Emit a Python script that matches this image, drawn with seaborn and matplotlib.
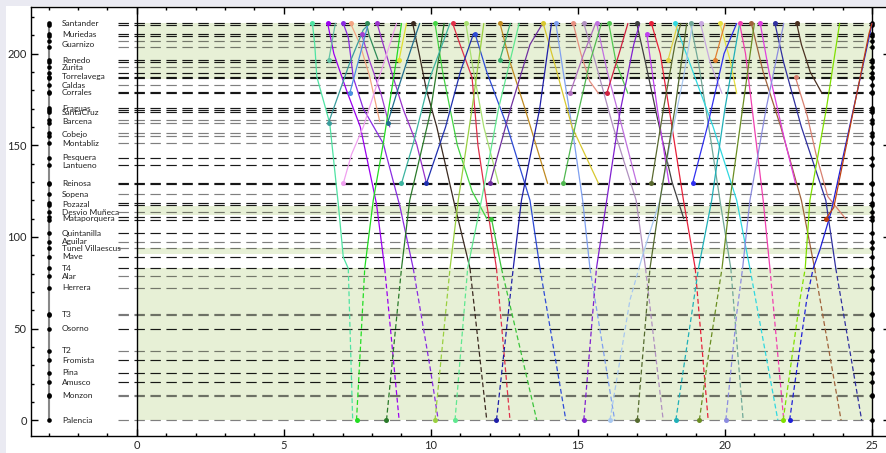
import matplotlib
matplotlib.use("Agg")
import matplotlib.pyplot as plt
import seaborn as sns
import numpy as np
from matplotlib.patches import Rectangle
from matplotlib.ticker import MultipleLocator

# -------------------------------
# Stations (km from Palencia)
# -------------------------------
station_names = [
    "Palencia", "Monzon", "Amusco", "Pina", "Fromista", "T2", "Osorno", "T3",
    "Herrera", "Alar", "T4", "Mave", "Tunel Villaescus", "Aguilar", "Quintanilla",
    "Mataporquera", "Desvio Muñeca", "Pozazal", "Sopena", "Reinosa", "Lantueno",
    "Pesquera", "Montabliz", "Cobejo", "Barcena", "SantaCruz", "Fraguas",
    "Corrales", "Caldas", "Torrelavega", "Zurita", "Renedo", "Guarnizo",
    "Muriedas", "Santander",
]
station_kms = [
    [0.0], [13.1, 13.7], [20.7], [25.8], [32.7], [37.8], [50.0], [57.3, 58.2],
    [72.2], [78.6], [82.8], [89.1], [93.7], [97.3], [101.9],
    [109.5, 110.9], [113.4], [117.4, 118.3], [123.2], [128.8, 129.5], [139.2],
    [143.3], [151.0], [155.0, 156.5], [162.3, 164.0], [168.0], [169.4, 170.3],
    [178.5, 179.2], [182.8], [186.5, 187.3, 189.2], [192.5], [195.5, 196.8], [203.7, 206.8],
    [209.9, 211.0], [215.5, 216.9],
]
station_dark = [
    False, False, True, True, True, False, True, False,
    False, False, True, True, False, False, True,
    True, False, True, False, True, True,
    True, False, False, False, True, True,
    True, False, True, False, True, False,
    True, True,
]

green_bands = [(0.0, 82.8), (90.6, 93.7), (111.9, 116.8), (186.1, 216.5)]
dash_limit = 82.8  # trains are drawn dashed below T4

# -------------------------------
# Trains: (colour, times, km)
# -------------------------------
down_full = [
    ("#4fe3a3", [5.97, 6.05, 6.12, 6.56, 6.85, 7.02, 7.19, 7.34], [216.5, 205, 187.4, 162, 118, 89, 82.8, 0]),
    ("#9b00f0", [6.49, 6.7, 7.13, 7.6, 8.15, 8.43, 8.92], [216.5, 200, 180, 160, 118, 82.8, 0]),
    ("#8a2be2", [7.02, 7.19, 7.36, 7.7, 8.38, 8.95, 9.40, 9.97, 10.25], [216.5, 209, 187, 170, 151, 116.4, 82.8, 29, 0]),
    ("#3b2a20", [9.38, 9.6, 9.85, 10.2, 10.8, 11.33, 11.9], [216.5, 200, 180, 160, 118, 82.8, 0]),
    ("#e0304a", [10.74, 10.99, 11.4, 11.6, 11.9, 12.23, 12.69], [216.5, 205, 187, 150, 118, 82.8, 0]),
    ("#2e4bd6", [11.5, 11.9, 12.6, 13.37, 13.71, 14.59], [211, 190, 160, 120, 82.8, 0]),
    ("#7fa0f0", [14.25, 14.5, 14.8, 15.16, 15.41, 16.25], [216.5, 190, 160, 120, 82.8, 0]),
    ("#b090c0", [15.2, 15.6, 16.2, 16.98, 17.3, 17.9], [216.5, 195, 160, 120, 82.8, 0]),
    ("#e8203a", [17.5, 17.8, 18.2, 18.59, 18.99, 19.43], [216.5, 200, 160, 120, 82.8, 0]),
    ("#70a898", [18.83, 19.1, 19.5, 19.83, 20.2, 20.62], [216.5, 195, 155, 120, 82.8, 0]),
    ("#30d8e0", [18.3, 18.8, 19.6, 20.4, 20.85, 21.8], [216.5, 195, 160, 120, 82.8, 0]),
    ("#f040b0", [20.5, 20.7, 21.0, 21.3, 21.53, 22.0], [216.5, 200, 160, 120, 82.8, 0]),
    ("#a0623a", [20.9, 21.3, 21.9, 22.6, 23.05, 23.95], [216.5, 190, 160, 120, 82.8, 0]),
    ("#3030a0", [21.7, 22.0, 22.6, 23.43, 23.77, 24.65], [216.5, 195, 160, 120, 82.8, 0]),
    ("#3cc43c", [12.06, 12.4, 13.6], [110, 82.8, 0]),
]
down_short = [
    ("#f4a582", [7.27, 7.59, 7.92, 8.26], [216.5, 205, 187.4, 163]),
    ("#2e8b57", [7.81, 7.9, 8.2], [216.5, 210, 196.8]),
    ("#9932cc", [8.17, 8.38, 8.72, 9.05, 9.51, 9.85], [216.5, 205, 187, 170, 151, 129.2]),
    ("#a040d0", [7.64, 7.9, 8.3, 8.6], [211, 196.8, 178.3, 160]),
    ("#44d444", [10.14, 10.4, 10.9, 11.4, 11.9], [216.5, 190, 150, 125, 110]),
    ("#a8e070", [11.19, 11.4, 11.8, 12.3], [216.5, 195, 160, 129.2]),
    ("#c08a20", [12.35, 12.7, 13.2, 13.97], [216.5, 195, 170, 129.2]),
    ("#d8c830", [13.82, 14.2, 14.8, 15.7], [216.5, 195, 160, 129.2]),
    ("#e89080", [14.84, 15.1, 15.4, 15.7], [216.5, 200, 185, 178.3]),
    ("#c070e0", [15.64, 16.0, 16.5, 17.0], [216.5, 190, 160, 129.2]),
    ("#50c850", [16.05, 16.3, 16.7], [216.5, 195, 178.3]),
    ("#404040", [17.0, 17.3, 17.7, 18.2, 18.6], [216.5, 195, 165, 130, 110]),
    ("#c8a8e0", [19.17, 19.5, 19.9], [216.5, 195, 178.3]),
    ("#e8e040", [19.83, 20.17, 20.4], [216.5, 196.8, 178.3]),
    ("#e040e0", [21.2, 21.5, 22.0, 22.4], [216.5, 190, 155, 129.2]),
    ("#4a3020", [22.44, 22.6, 22.9, 23.3], [216.5, 205, 190, 178.4]),
    ("#d88070", [22.4, 22.8, 23.1, 23.5, 24.1], [187, 166, 145, 122, 110]),
    ("#c040f0", [17.34, 17.7, 18.1], [211, 170, 129.2]),
]
up_full = [
    ("#22dd22", [7.47, 7.75, 8.04, 8.38, 8.83, 9.0], [0, 82.8, 120, 151, 197, 216.5]),
    ("#2a7a2a", [8.49, 9.0, 9.28, 9.97, 10.45], [0, 82.8, 120, 167, 216.5]),
    ("#9ad040", [10.14, 10.65, 10.93, 11.4, 11.8], [0, 82.8, 120, 170, 216.5]),
    ("#60e890", [10.82, 11.25, 11.72, 12.3, 13.0], [0, 82.8, 120, 170, 216.5]),
    ("#1f1fa8", [12.23, 12.8, 13.08, 13.7, 14.1], [0, 82.8, 120, 170, 216.5]),
    ("#8020d0", [15.2, 15.63, 15.98, 16.43, 16.9, 17.1], [0, 82.8, 120, 168, 205, 216.5]),
    ("#a8c8f0", [16.09, 16.77, 17.22, 17.79, 18.13, 18.59, 18.9], [0, 65.6, 91, 120, 151, 187, 216.5]),
    ("#556b2f", [17.02, 17.45, 17.79, 18.3, 18.7], [0, 82.8, 120, 170, 216.5]),
    ("#20b0b8", [18.33, 19.1, 19.55, 20.0, 20.5], [0, 82.8, 120, 170, 216.5]),
    ("#6b8e23", [19.13, 19.38, 19.9, 20.17, 20.6, 21.0], [0, 29, 82.8, 120, 170, 216.5]),
    ("#8c8ce0", [20.03, 20.4, 20.6, 20.85, 21.4, 22.0], [0, 58, 82.8, 120, 170, 216.5]),
    ("#80e000", [21.98, 22.55, 22.73, 22.89, 23.45, 23.9], [0, 65.6, 82.8, 120, 170, 216.5]),
    ("#2020d8", [22.2, 22.78, 23.0, 23.23, 23.6, 24.93, 25.0], [0, 65.6, 82.8, 93, 113, 211, 216.5]),
]
up_short = [
    ("#c04010", [23.43, 23.7, 24.9, 25.0], [110, 116, 211, 216.5]),
    ("#66c2a5", [6.53, 6.75], [196.8, 216.5]),
    ("#3a9d9d", [6.52, 7.24, 7.7, 7.92], [162.3, 195, 213, 216.5]),
    ("#4a90e2", [7.24, 7.6, 7.87], [178.3, 200, 216.5]),
    ("#f0a0f0", [7.02, 7.3, 7.7, 8.2, 8.83], [129.2, 145, 160, 185, 216.5]),
    ("#e0e030", [8.92, 9.17], [196.8, 216.5]),
    ("#1f6f8f", [8.53, 8.83, 9.17, 9.5, 9.62], [162.3, 178, 195, 211, 216.5]),
    ("#3cb4a0", [9.0, 9.4, 9.97, 10.65], [129.2, 151, 187, 216.5]),
    ("#2030b0", [9.85, 10.5, 11.0, 11.45], [129.2, 160, 190, 211]),
    ("#3cb371", [12.35, 12.7], [196.8, 216.5]),
    ("#7030a0", [12.01, 12.69, 13.37, 13.8], [129.2, 169, 205, 216.5]),
    ("#b070c0", [14.73, 15.2, 15.6], [178.3, 200, 216.5]),
    ("#d02040", [15.98, 16.4, 16.7], [178.3, 200, 216.5]),
    ("#e0d040", [18.07, 18.4], [196.8, 216.5]),
    ("#e08030", [19.66, 20.0], [196.8, 216.5]),
    ("#5a6a30", [17.5, 17.9, 18.3, 18.5], [129.2, 169, 205, 216.5]),
    ("#3030f0", [18.9, 19.4, 19.97, 20.4], [129.2, 160, 200, 216.5]),
    ("#50b850", [14.5, 14.9, 15.4, 15.8], [129.2, 160, 195, 216.5]),
]


def styled_pieces(ts, ks):
    # insert the T4 crossing so the part below it can be dashed
    pts = [(ts[0], ks[0])]
    for i in range(1, len(ts)):
        t0, k0, t1, k1 = ts[i - 1], ks[i - 1], ts[i], ks[i]
        if (k0 - dash_limit) * (k1 - dash_limit) < 0:
            f = (dash_limit - k0) / (k1 - k0)
            pts.append((t0 + f * (t1 - t0), dash_limit))
        pts.append((t1, k1))
    pieces = []
    for a, b in zip(pts, pts[1:]):
        low = (a[1] + b[1]) / 2 < dash_limit
        if pieces and pieces[-1][0] == low:
            pieces[-1][1].append(b)
        else:
            pieces.append([low, [a, b]])
    return pieces


sns.set_theme(style="ticks")
plt.rcParams["font.family"] = ["Lato", "DejaVu Sans"]
plt.rcParams["lines.scale_dashes"] = False

W, H = 887, 453
fig = plt.figure(figsize=(W / 100, H / 100), dpi=100, facecolor="#eaeaf2")
fig.add_artist(Rectangle((6 / W, 0), 1, (H - 6) / H, transform=fig.transFigure,
                         facecolor="white", edgecolor="none", zorder=-10))
ax = fig.add_axes([31 / W, 16.7 / H, 858.6 / W, 429 / H])
ax.set_facecolor("white")

# green sections
for lo, hi in green_bands:
    ax.fill_between([0, 25], lo, hi, color="#e7f0d6", lw=0, zorder=0)

# station lines
all_kms = []
for name, kms, dark in zip(station_names, station_kms, station_dark):
    for km in kms:
        all_kms.append(km)
        ax.plot([-0.65, 25], [km, km], color="black", alpha=0.9 if dark else 0.5,
                lw=0.85, linestyle=(0, (7.5, 4)), zorder=1)
    ax.text(-2.55, np.mean(kms), name, fontsize=6, va="center", ha="left", color="#222222")

ax.plot([-3, -3], [0, 216.9], color="#888888", lw=1.5, zorder=2)
ax.axvline(0, color="black", lw=1.0, zorder=2)
ax.axvline(25, color="black", lw=1.0, zorder=2)
sns.scatterplot(x=[-3] * len(all_kms), y=all_kms, color="black", s=11, linewidth=0, ax=ax, zorder=3)
sns.scatterplot(x=[25] * len(all_kms), y=all_kms, color="black", s=11, linewidth=0, ax=ax, zorder=3)

# trains
for group in (down_full, down_short, up_full, up_short):
    for color, ts, ks in group:
        for low, pts in styled_pieces(ts, ks):
            xs, ys = zip(*pts)
            ax.plot(xs, ys, color=color, lw=0.9,
                    linestyle=(0, (3.5, 2)) if low else "-", zorder=4)
        ax.plot(ts[0], ks[0], "o", color=color, ms=3.6, mew=0, zorder=5)

ax.set_xlim(-3.6, 25.6)
ax.set_ylim(-8.8, 225.3)
ax.set_xticks(range(0, 26, 5))
ax.set_yticks(range(0, 201, 50))
ax.xaxis.set_minor_locator(MultipleLocator(1))
ax.yaxis.set_minor_locator(MultipleLocator(10))
ax.tick_params(which="both", direction="in", top=True, right=True, labelsize=8, width=1, color="black")
ax.tick_params(which="major", length=5, pad=3)
ax.tick_params(which="minor", length=2.5)
for s in ax.spines.values():
    s.set_color("black")
    s.set_linewidth(1.0)
ax.set_xlabel("")
ax.set_ylabel("")

fig.savefig("out.png", dpi=100, facecolor=fig.get_facecolor())
